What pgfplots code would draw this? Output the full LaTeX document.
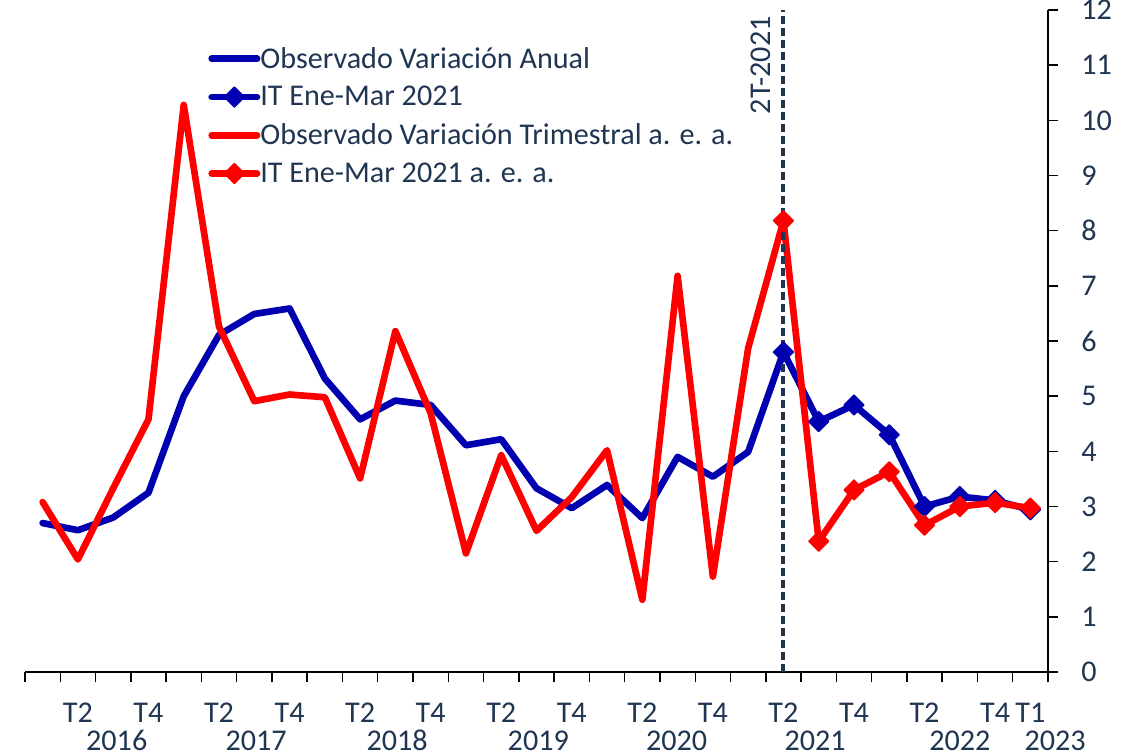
\documentclass[border=0pt]{standalone}
\usepackage{fontspec}
\setmainfont{Carlito}
\usepackage{pgfplots}
\usepackage{pgfplotstable}
\pgfplotsset{compat=1.18}
\definecolor{txt}{HTML}{1F3552}
\definecolor{azul}{RGB}{0,0,176}
\definecolor{rojo}{RGB}{255,0,0}
\newcommand{\fs}{\fontsize{22.6}{27}\selectfont}

\pgfplotstableread{
i v
0 2.70
1 2.57
2 2.80
3 3.25
4 5.00
5 6.11
6 6.49
7 6.59
8 5.32
9 4.58
10 4.92
11 4.84
12 4.11
13 4.22
14 3.33
15 2.97
16 3.39
17 2.79
18 3.90
19 3.54
20 3.99
21 5.80
}\obsanual
\pgfplotstableread{
i v
21 5.80
22 4.54
23 4.84
24 4.30
25 3.00
26 3.18
27 3.11
28 2.94
}\itanual
\pgfplotstableread{
i v
0 3.08
1 2.04
2 3.33
3 4.58
4 10.28
5 6.26
6 4.91
7 5.03
8 4.98
9 3.51
10 6.18
11 4.69
12 2.15
13 3.93
14 2.56
15 3.17
16 4.02
17 1.31
18 7.18
19 1.73
20 5.87
21 8.18
}\obstrim
\pgfplotstableread{
i v
21 8.18
22 2.37
23 3.30
24 3.63
25 2.66
26 3.00
27 3.07
28 2.97
}\ittrim

\tikzset{ql/.style={font=\fs, text=txt, anchor=center, yshift=-30.4pt, inner sep=0pt},
         yl/.style={font=\fs, text=txt, anchor=center, yshift=-51.5pt, inner sep=0pt}}
\pgfplotsset{myleg/.style={legend image code/.code={%
    \draw[#1, line cap=round] (2.5pt,0pt) -- (36.5pt,0pt);
    \draw[#1] plot coordinates {(19.5pt,0pt)};}}}

\begin{document}
\begin{tikzpicture}
\begin{axis}[name=ax, scale only axis, width=767.25pt, height=496.5pt,
  xmin=-0.5, xmax=28.5, ymin=0, ymax=12,
  axis x line*=bottom, axis y line*=right,
  axis line style={black, line width=1.1pt},
  xtick={-0.5,0.5,...,28.5}, xticklabels={},
  ytick={0,1,...,12},
  tick align=outside, major tick length=7.5pt,
  tick style={black, line width=1.1pt},
  yticklabel style={font=\fs, text=txt, anchor=west, xshift=14pt},
  /pgf/number format/assume math mode=true,
  clip=false,
  legend cell align=left,
  legend style={at={(rel axis cs:0.179,0.944)}, anchor=north west, draw=none, fill=none,
    font=\fs, text=txt, inner sep=0pt, row sep=12pt,
    nodes={inner sep=0pt, xshift=3pt}},
  myleg,
]
\addplot[azul, line width=5pt, line join=round, line cap=round, mark=none] table[x=i,y=v] {\obsanual};
\addlegendentry{Observado Variación Anual}
\addplot[azul, line width=5pt, line join=round, mark=square*, mark size=5.3pt,
  mark options={rotate=45, line width=1pt, fill=azul, solid}] table[x=i,y=v] {\itanual};
\addlegendentry{IT Ene-Mar 2021}
\addplot[rojo, line width=5pt, line join=round, line cap=round, mark=none] table[x=i,y=v] {\obstrim};
\addlegendentry{Observado Variación Trimestral a. e. a.}
\addplot[rojo, line width=5pt, line join=round, mark=square*, mark size=5.3pt,
  mark options={rotate=45, line width=1pt, fill=rojo, solid}] table[x=i,y=v] {\ittrim};
\addlegendentry{IT Ene-Mar 2021 a. e. a.}

\draw[txt, line width=3pt, dash pattern=on 6pt off 3pt] (axis cs:21,0) -- (axis cs:21,12);
\node[rotate=90, font=\fs, text=txt] at (axis cs:20.37,11.0) {2T-2021};

\node[ql] at (axis cs:1,0) {T2};
\node[ql] at (axis cs:3,0) {T4};
\node[ql] at (axis cs:5,0) {T2};
\node[ql] at (axis cs:7,0) {T4};
\node[ql] at (axis cs:9,0) {T2};
\node[ql] at (axis cs:11,0) {T4};
\node[ql] at (axis cs:13,0) {T2};
\node[ql] at (axis cs:15,0) {T4};
\node[ql] at (axis cs:17,0) {T2};
\node[ql] at (axis cs:19,0) {T4};
\node[ql] at (axis cs:21,0) {T2};
\node[ql] at (axis cs:23,0) {T4};
\node[ql] at (axis cs:25,0) {T2};
\node[ql] at (axis cs:27,0) {T4};
\node[ql] at (axis cs:28,0) {T1};

\node[yl] at (axis cs:2.1,0) {2016};
\node[yl] at (axis cs:6.05,0) {2017};
\node[yl] at (axis cs:10.05,0) {2018};
\node[yl] at (axis cs:14.05,0) {2019};
\node[yl] at (axis cs:17.97,0) {2020};
\node[yl] at (axis cs:21.9,0) {2021};
\node[yl] at (axis cs:26.0,0) {2022};
\node[yl] at (axis cs:28.7,0) {2023};
\end{axis}
\pgfresetboundingbox
\path[use as bounding box] ([xshift=-18.75pt,yshift=-61.5pt]ax.south west) rectangle ([xshift=55.5pt,yshift=7.5pt]ax.north east);
\end{tikzpicture}
\end{document}
